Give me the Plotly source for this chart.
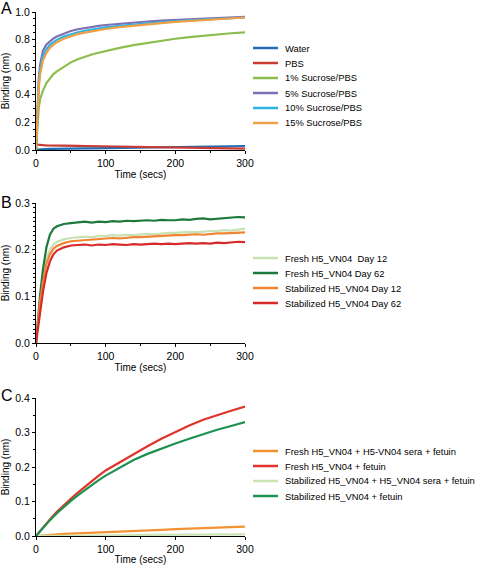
import plotly.graph_objects as go

# ---------------- Panel A data ----------------
tA = [0, 2, 4, 6, 8, 10, 15, 20, 25, 30, 40, 50, 60, 70, 80, 90, 100, 120, 140, 160, 180, 200, 220, 240, 260, 280, 300]
a_water = [0.003, 0.004, 0.005, 0.006, 0.006, 0.007, 0.007, 0.008, 0.008, 0.009, 0.010, 0.010, 0.011, 0.012, 0.012, 0.013, 0.014, 0.015, 0.017, 0.018, 0.020, 0.021, 0.023, 0.024, 0.026, 0.027, 0.029]
a_pbs = [0.040, 0.038, 0.037, 0.036, 0.035, 0.035, 0.034, 0.033, 0.033, 0.032, 0.031, 0.030, 0.030, 0.029, 0.028, 0.027, 0.026, 0.024, 0.022, 0.020, 0.018, 0.017, 0.015, 0.013, 0.012, 0.011, 0.010]
a_s1 = [0.0, 0.20, 0.31, 0.37, 0.41, 0.43, 0.485, 0.52, 0.55, 0.57, 0.605, 0.635, 0.658, 0.676, 0.692, 0.705, 0.718, 0.740, 0.760, 0.777, 0.793, 0.806, 0.818, 0.829, 0.838, 0.846, 0.853]
a_s5 = [0.0, 0.32, 0.52, 0.62, 0.68, 0.72, 0.765, 0.79, 0.808, 0.822, 0.845, 0.862, 0.875, 0.885, 0.893, 0.900, 0.906, 0.916, 0.924, 0.931, 0.937, 0.942, 0.947, 0.952, 0.956, 0.960, 0.964]
a_s10 = [0.0, 0.29, 0.48, 0.58, 0.64, 0.68, 0.73, 0.762, 0.782, 0.798, 0.822, 0.840, 0.853, 0.864, 0.873, 0.881, 0.888, 0.900, 0.910, 0.919, 0.927, 0.934, 0.940, 0.946, 0.951, 0.956, 0.960]
a_s15 = [0.0, 0.27, 0.45, 0.55, 0.61, 0.65, 0.705, 0.74, 0.763, 0.781, 0.806, 0.825, 0.840, 0.851, 0.861, 0.869, 0.877, 0.890, 0.901, 0.911, 0.920, 0.928, 0.935, 0.942, 0.948, 0.954, 0.960]
a_names = ["Water", "PBS", "1% Sucrose/PBS", "5% Sucrose/PBS", "10% Sucrose/PBS", "15% Sucrose/PBS"]

# ---------------- Panel B data ----------------
tB = [0, 3, 6, 10, 15, 20, 25, 30, 40, 50, 60, 70, 80, 90, 100, 110, 120, 130, 140, 150, 160, 170, 180, 190, 200,
      210, 220, 230, 240, 250, 260, 270, 280, 290, 300]
b_fresh12 = [0.0, 0.05, 0.095, 0.14, 0.18, 0.200, 0.211, 0.217, 0.222, 0.225, 0.226, 0.228, 0.227, 0.229, 0.229, 0.231, 0.230, 0.232, 0.231, 0.233, 0.234, 0.233, 0.235, 0.236, 0.236,
             0.237, 0.238, 0.237, 0.239, 0.240, 0.240, 0.242, 0.241, 0.243, 0.245]
b_fresh62 = [0.0, 0.055, 0.105, 0.158, 0.205, 0.232, 0.245, 0.250, 0.255, 0.257, 0.258, 0.260, 0.258, 0.260, 0.259, 0.261, 0.260, 0.262, 0.261, 0.262, 0.263, 0.262, 0.264, 0.263, 0.263,
             0.265, 0.264, 0.266, 0.267, 0.265, 0.266, 0.267, 0.268, 0.270, 0.269]
b_stab12 = [0.0, 0.045, 0.09, 0.13, 0.17, 0.190, 0.202, 0.208, 0.214, 0.218, 0.219, 0.221, 0.222, 0.222, 0.224, 0.225, 0.224, 0.226, 0.227, 0.227, 0.228, 0.229, 0.229, 0.230, 0.231,
            0.231, 0.232, 0.233, 0.232, 0.234, 0.235, 0.235, 0.236, 0.237, 0.237]
b_stab62 = [0.0, 0.035, 0.075, 0.11, 0.15, 0.175, 0.190, 0.198, 0.205, 0.209, 0.210, 0.211, 0.209, 0.211, 0.210, 0.212, 0.211, 0.210, 0.212, 0.211, 0.212, 0.213, 0.212, 0.213, 0.212,
            0.213, 0.214, 0.213, 0.214, 0.213, 0.215, 0.214, 0.216, 0.217, 0.216]
b_names = ["Fresh H5_VN04  Day 12", "Fresh H5_VN04 Day 62", "Stabilized H5_VN04 Day 12", "Stabilized H5_VN04 Day 62"]

# ---------------- Panel C data ----------------
tC = [0, 10, 20, 30, 40, 50, 60, 70, 80, 90, 100, 120, 140, 160, 180, 200, 220, 240, 260, 280, 300]
c_fresh_sera = [0.0, 0.002, 0.004, 0.005, 0.006, 0.007, 0.008, 0.009, 0.010, 0.011, 0.011, 0.013, 0.015, 0.017, 0.018, 0.020, 0.021, 0.022, 0.023, 0.025, 0.027]
c_fresh = [0.0, 0.025, 0.048, 0.070, 0.090, 0.108, 0.126, 0.143, 0.159, 0.175, 0.190, 0.214, 0.238, 0.260, 0.282, 0.302, 0.320, 0.337, 0.351, 0.363, 0.375]
c_stab_sera = [0.0, 0.0, 0.001, 0.001, 0.001, 0.001, 0.002, 0.002, 0.002, 0.002, 0.002, 0.002, 0.003, 0.003, 0.003, 0.003, 0.003, 0.004, 0.004, 0.004, 0.005]
c_stab = [0.0, 0.024, 0.046, 0.066, 0.085, 0.102, 0.118, 0.133, 0.148, 0.162, 0.175, 0.198, 0.220, 0.238, 0.254, 0.268, 0.282, 0.296, 0.308, 0.319, 0.330]
c_names = ["Fresh H5_VN04 + H5-VN04 sera + fetuin", "Fresh H5_VN04 + fetuin",
           "Stabilized H5_VN04 + H5_VN04 sera + fetuin", "Stabilized H5_VN04 + fetuin"]

x_ticks = [0, 100, 200, 300]

W, H = 480, 565
FONT = "Liberation Sans, Arial, sans-serif"
TICK_SIZE = 10.5
TITLE_SIZE = 10
LEG_SIZE = 9.4

fig = go.Figure()


def py(px):
    return 1 - px / H


def add(t, y, name, color, xa, ya):
    fig.add_trace(go.Scatter(x=t, y=y, name=name, mode="lines",
                             line=dict(color=color, width=2.2),
                             xaxis=xa, yaxis=ya, showlegend=False))


def add_legend(names, colors, first_px):
    # legend drawn as line samples + text, 15 px per entry like the reference
    for k, (nm, c) in enumerate(zip(names, colors)):
        ypx = first_px + 15 * k
        fig.add_shape(type="line", xref="paper", yref="paper",
                      x0=253 / W, x1=278 / W, y0=py(ypx), y1=py(ypx),
                      line=dict(color=c, width=2.5))
        fig.add_annotation(text=nm, x=283 / W, y=py(ypx), xref="paper", yref="paper",
                           xanchor="left", yanchor="middle", showarrow=False,
                           font=dict(size=LEG_SIZE, family=FONT, color="black"))


colA = ["#1f6fb5", "#c93a33", "#8dbd4c", "#7f70b3", "#2eb2e2", "#f0a044"]
for yv, nm, c in zip([a_water, a_pbs, a_s1, a_s5, a_s10, a_s15], a_names, colA):
    add(tA, yv, nm, c, "x", "y")
add_legend(a_names, colA, 48)

colB = ["#c8e2b4", "#1d7a3c", "#f08434", "#d82a2a"]
for yv, nm, c in zip([b_fresh12, b_fresh62, b_stab12, b_stab62], b_names, colB):
    add(tB, yv, nm, c, "x2", "y2")
add_legend(b_names, colB, 258)

colC = ["#f39233", "#e0332a", "#cce3b6", "#1c9150"]
for yv, nm, c in zip([c_fresh_sera, c_fresh, c_stab_sera, c_stab], c_names, colC):
    add(tC, yv, nm, c, "x3", "y3")
add_legend(c_names, colC, 451)

xdom = [36 / W, 245 / W]
axis_common = dict(showline=True, linecolor="black", linewidth=1, ticks="outside",
                   ticklen=3, tickcolor="black", showgrid=False, zeroline=False,
                   automargin=False,
                   tickfont=dict(size=TICK_SIZE, color="black", family=FONT))

doms = [(12, 150), (203, 343), (398, 536)]
yranges = [(0, 1.0, 0.2, 0.05), (0, 0.3, 0.1, 0.01), (0, 0.4, 0.1, 0.05)]
for i, ((top, bot), (y0, y1, dt, mdt)) in enumerate(zip(doms, yranges)):
    sx = "" if i == 0 else str(i + 1)
    fig.update_layout(**{
        "xaxis" + sx: dict(axis_common, domain=xdom, range=[0, 300], tickvals=x_ticks,
                           anchor="y" + sx,
                           minor=dict(ticks="outside", ticklen=2, tickcolor="black", dtick=50),
                           title=dict(text="Time (secs)", font=dict(size=TITLE_SIZE, family=FONT, color="black"), standoff=0)),
        "yaxis" + sx: dict(axis_common, domain=[py(bot), py(top)], range=[y0, y1], dtick=dt,
                           tickformat=".1f", anchor="x" + sx,
                           minor=dict(ticks="outside", ticklen=2, tickcolor="black", dtick=mdt),
                           title=dict(text="Binding (nm)", font=dict(size=TITLE_SIZE, family=FONT, color="black"), standoff=5)),
    })

for lab, ypx in [("A", 9), ("B", 202), ("C", 395)]:
    fig.add_annotation(text=lab, x=-0.002, y=py(ypx), xref="paper", yref="paper",
                       xanchor="left", yanchor="middle", showarrow=False,
                       font=dict(size=16, family=FONT, color="black"))

fig.update_layout(width=W, height=H, margin=dict(l=0, r=0, t=0, b=0),
                  paper_bgcolor="white", plot_bgcolor="white", showlegend=False,
                  font=dict(family=FONT, color="black"))

# remove the default 8px page margin so the figure fills the window exactly
fig.write_html("out.html", config={"displayModeBar": False},
               post_script="document.body.style.margin='0';")
